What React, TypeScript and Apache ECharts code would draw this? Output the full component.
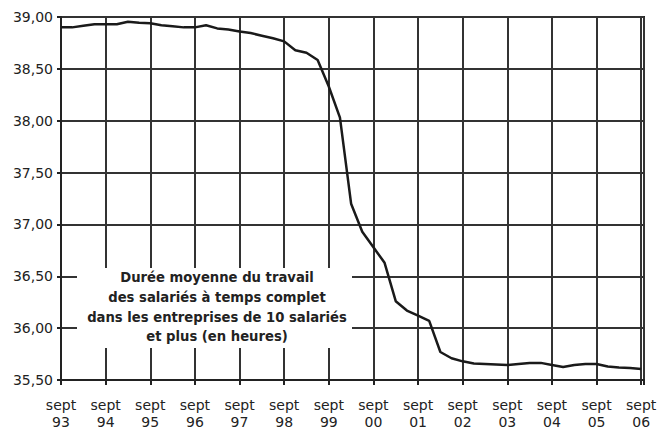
import React, { useEffect, useRef } from "react";
import * as echarts from "echarts";

// Quarterly data points from sept 93 (index 0) to sept 06 (index 52)
const quarterIndex: number[] = Array.from({ length: 53 }, (_, i) => i);
const hours: number[] = [
  38.9, 38.9, 38.915, 38.93, 38.93, 38.93, 38.955, 38.945, 38.94, 38.92,
  38.91, 38.9, 38.9, 38.92, 38.89, 38.88, 38.86, 38.845, 38.82, 38.795,
  38.765, 38.68, 38.655, 38.585, 38.33, 38.03, 37.2, 36.93, 36.78, 36.63,
  36.26, 36.17, 36.12, 36.07, 35.77, 35.71, 35.68, 35.66, 35.655, 35.65,
  35.645, 35.655, 35.665, 35.665, 35.645, 35.625, 35.645, 35.655, 35.655, 35.63,
  35.62, 35.615, 35.605,
];
const yearLabels: string[] = ["93", "94", "95", "96", "97", "98", "99", "00", "01", "02", "03", "04", "05", "06"];
const noteLines: string[] = [
  "Durée moyenne du travail",
  "des salariés à temps complet",
  "dans les entreprises de 10 salariés",
  "et plus (en heures)",
];

export default function App() {
  const ref = useRef<HTMLDivElement>(null);
  useEffect(() => {
    if (!ref.current) return;
    const chart = echarts.init(ref.current, null, { renderer: "svg" });
    const font = "'DejaVu Sans', Verdana, sans-serif";
    chart.setOption({
      animation: false,
      backgroundColor: "#fff",
      grid: {
        left: 61,
        top: 17,
        right: 16,
        bottom: 47,
        show: true,
        borderColor: "#222",
        borderWidth: 2,
      },
      xAxis: {
        type: "value",
        min: 0,
        max: 52.25,
        interval: 4,
        axisLine: { show: true, onZero: false, lineStyle: { color: "#222", width: 2 } },
        axisTick: { show: true, inside: false, length: 5, lineStyle: { color: "#222", width: 2 } },
        splitLine: { show: true, lineStyle: { color: "#333", width: 2 } },
        axisLabel: {
          color: "#222",
          fontFamily: font,
          fontSize: 14,
          lineHeight: 17,
          margin: 16,
          formatter: (v: number) => {
            const k = v / 4;
            if (Math.abs(k - Math.round(k)) > 1e-6) return "";
            const lbl = yearLabels[Math.round(k)];
            return lbl ? "sept\n" + lbl : "";
          },
        },
      },
      yAxis: {
        type: "value",
        min: 35.5,
        max: 39,
        interval: 0.5,
        axisLine: { show: true, lineStyle: { color: "#222", width: 2 } },
        axisTick: { show: true, inside: false, length: 4, lineStyle: { color: "#222", width: 2 } },
        splitLine: { show: true, lineStyle: { color: "#333", width: 2 } },
        axisLabel: {
          color: "#222",
          fontFamily: font,
          fontSize: 14,
          margin: 8,
          formatter: (v: number) => v.toFixed(2).replace(".", ","),
        },
      },
      series: [
        {
          type: "line",
          data: quarterIndex.map((q, i) => [q, hours[i]]),
          symbol: "none",
          lineStyle: { color: "#1a1a1a", width: 2.5 },
          z: 3,
        },
      ],
      graphic: [
        {
          type: "rect",
          shape: { x: 77, y: 268, width: 275, height: 80 },
          style: { fill: "#fff" },
          z: 100,
        },
        {
          type: "text",
          x: 217,
          y: 268,
          z: 101,
          style: {
            text: noteLines.join("\n"),
            fontFamily: font,
            fontWeight: "bold",
            fontSize: 13.2,
            lineHeight: 19.7,
            fill: "#222",
            align: "center",
            verticalAlign: "top",
          },
        },
      ],
    });
    return () => chart.dispose();
  }, []);
  return <div ref={ref} style={{ position: "absolute", left: 0, top: 0, width: 660, height: 430 }} />;
}
